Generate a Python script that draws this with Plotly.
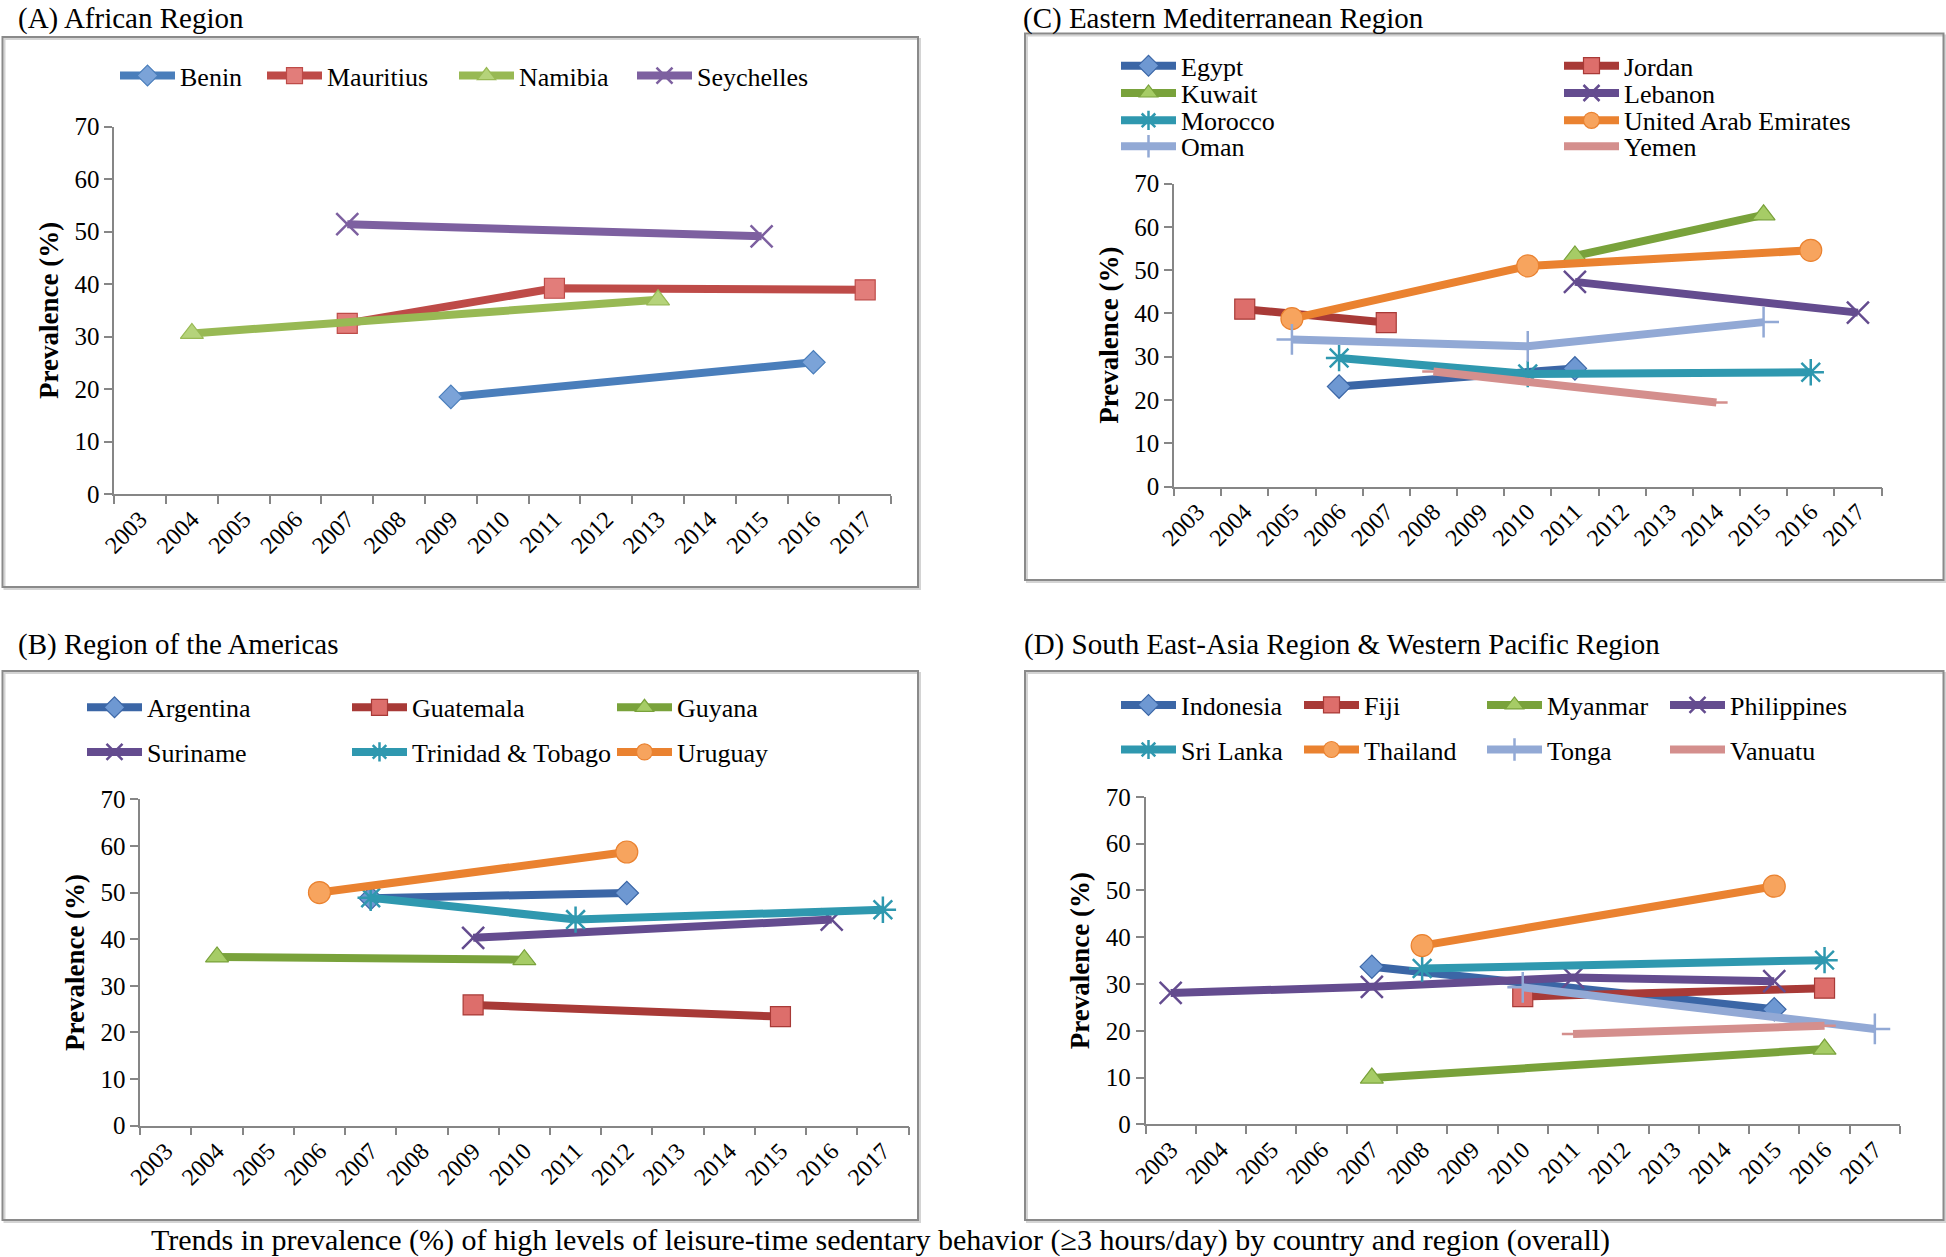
import plotly.graph_objects as go

W, H = 1946, 1257
SERIF = 'Liberation Serif'

YEARS = ['2003', '2004', '2005', '2006', '2007', '2008', '2009', '2010',
         '2011', '2012', '2013', '2014', '2015', '2016', '2017']

# (A) African Region
african_countries = ['Benin', 'Mauritius', 'Namibia', 'Seychelles']
african_years = [['2009', '2016'], ['2007', '2011', '2017'], ['2004', '2013'], ['2007', '2015']]
african_values = [[18.5, 25.1], [32.5, 39.2, 38.9], [30.6, 37.0], [51.4, 49.1]]

# (B) Region of the Americas
americas_countries = ['Argentina', 'Guatemala', 'Guyana', 'Suriname', 'Trinidad & Tobago', 'Uruguay']
americas_years = [['2007', '2012'], ['2009', '2015'], ['2004', '2010'], ['2009', '2016'],
                  ['2007', '2011', '2017'], ['2006', '2012']]
americas_values = [[48.8, 49.9], [25.9, 23.4], [36.2, 35.6], [40.3, 44.2],
                   [48.9, 44.2, 46.3], [50.0, 58.7]]

# (C) Eastern Mediterranean Region
emr_countries = ['Egypt', 'Jordan', 'Kuwait', 'Lebanon', 'Morocco',
                 'United Arab Emirates', 'Oman', 'Yemen']
emr_years = [['2006', '2011'], ['2004', '2007'], ['2011', '2015'], ['2011', '2017'],
             ['2006', '2010', '2016'], ['2005', '2010', '2016'], ['2005', '2010', '2015'],
             ['2008', '2014']]
emr_values = [[23.1, 27.3], [41.0, 37.9], [53.3, 62.8], [47.3, 40.2],
              [29.7, 26.0, 26.4], [38.8, 51.0, 54.6], [34.0, 32.4, 38.0],
              [26.6, 19.4]]

# (D) South East-Asia Region & Western Pacific Region
sea_countries = ['Indonesia', 'Fiji', 'Myanmar', 'Philippines',
                 'Sri Lanka', 'Thailand', 'Tonga', 'Vanuatu']
sea_years = [['2007', '2015'], ['2010', '2016'], ['2007', '2016'],
             ['2003', '2007', '2011', '2015'], ['2008', '2016'], ['2008', '2015'],
             ['2010', '2017'], ['2011', '2016']]
sea_values = [[33.7, 24.6], [27.3, 29.1], [9.9, 16.1], [28.1, 29.4, 31.4, 30.6],
              [33.3, 35.1], [38.2, 50.9], [29.3, 20.4], [19.3, 21.1]]

# excel-ish series styles, by series index
SYMBOLS = ['diamond', 'square', 'triangle-up', 'x-thin', 'asterisk', 'circle', 'cross-thin', 'line-ew']
SIZES = [18, 20, 20, 22, 22, 22, 22, 16]
THIN = {'x-thin', 'asterisk', 'cross-thin', 'line-ew'}
LIGHT_LINE = ['#4A7EBB', '#BE4B48', '#98B954', '#7D60A0']
LIGHT_FILL = ['#7BA3D8', '#E27D7A', '#B5D37A', '#9C84BE']
DARK_LINE = ['#3B66A6', '#A83A37', '#79A23B', '#644C8F', '#2F98AF', '#EA8230', '#92A9D5', '#D48F8D']
DARK_FILL = ['#6E98D2', '#DD6E6B', '#A6CC66', '#8C74B8', '#4BB8CF', '#F7A45E', '#B3C6E6', '#E8AAA8']


def px_x(v):
    return v / W


def px_y(v):
    return 1 - v / H


def make_trace(name, years, values, idx, axis, legend, light=False, legendwidth=None):
    line_c = (LIGHT_LINE if light else DARK_LINE)[idx]
    fill_c = (LIGHT_FILL if light else DARK_FILL)[idx]
    sym = SYMBOLS[idx]
    if sym in THIN:
        marker = dict(symbol=sym, size=SIZES[idx], color=line_c, line=dict(color=line_c, width=2.5))
    else:
        marker = dict(symbol=sym, size=SIZES[idx], color=fill_c, line=dict(color=line_c, width=1.2))
    tr = go.Scatter(
        x=years, y=values, name=name, mode='lines+markers',
        line=dict(color=line_c, width=8),
        marker=marker,
        xaxis='x' + axis, yaxis='y' + axis,
        legend=legend,
    )
    if legendwidth is not None:
        tr.legendwidth = legendwidth
    return tr


fig = go.Figure()

# panel A: one legend row
a_widths = [77, 122, 108, 120]
for i, c in enumerate(african_countries):
    fig.add_trace(make_trace(c, african_years[i], african_values[i], i, '', 'legend',
                             light=True, legendwidth=a_widths[i]))

# panel C: four legend rows of two
for i, c in enumerate(emr_countries):
    fig.add_trace(make_trace(c, emr_years[i], emr_values[i], i, '3', 'legend%d' % (2 + i // 2),
                             legendwidth=(373 if i % 2 == 0 else 240)))

# panel B: two rows of three
for i, c in enumerate(americas_countries):
    fig.add_trace(make_trace(c, americas_years[i], americas_values[i], i, '2', 'legend%d' % (6 + i // 3)))

# panel D: two rows of four
for i, c in enumerate(sea_countries):
    fig.add_trace(make_trace(c, sea_years[i], sea_values[i], i, '4', 'legend%d' % (8 + i // 4)))


def x_axis(dom, anchor):
    return dict(domain=dom, anchor=anchor, type='category', categoryorder='array',
                categoryarray=YEARS, range=[-0.5, 14.5], tickson='boundaries',
                ticks='outside', ticklen=8, tickcolor='#868686', tickwidth=1.5,
                showline=True, linecolor='#868686', linewidth=1.5,
                tickangle=-45, tickfont=dict(family=SERIF, size=24, color='black'),
                showgrid=False, zeroline=False, automargin=False)


def y_axis(dom, anchor):
    return dict(domain=dom, anchor=anchor, range=[0, 70], dtick=10,
                ticks='outside', ticklen=8, tickcolor='#868686', tickwidth=1.5,
                showline=True, linecolor='#868686', linewidth=1.5,
                tickfont=dict(family=SERIF, size=25, color='black'),
                title=dict(text='Prevalence (%)', standoff=8,
                           font=dict(family=SERIF, size=27, color='black', weight='bold')),
                showgrid=False, zeroline=False, automargin=False)


layout = dict(
    width=W, height=H,
    margin=dict(l=0, r=0, t=0, b=0, autoexpand=False),
    paper_bgcolor='white', plot_bgcolor='white',
    showlegend=True,
    xaxis=x_axis([px_x(114.2), px_x(891.1)], 'y'),
    yaxis=y_axis([px_y(494.0), px_y(126.6)], 'x'),
    xaxis2=x_axis([px_x(140.2), px_x(908.5)], 'y2'),
    yaxis2=y_axis([px_y(1125.7), px_y(799.3)], 'x2'),
    xaxis3=x_axis([px_x(1174.0), px_x(1881.5)], 'y3'),
    yaxis3=y_axis([px_y(486.5), px_y(183.7)], 'x3'),
    xaxis4=x_axis([px_x(1145.5), px_x(1900.0)], 'y4'),
    yaxis4=y_axis([px_y(1124.4), px_y(796.8)], 'x4'),
)


def legend_row(x_px, y_px, entrywidth=None):
    d = dict(orientation='h', x=px_x(x_px), xanchor='left', y=px_y(y_px), yanchor='middle',
             bgcolor='rgba(0,0,0,0)', itemwidth=55, traceorder='normal',
             font=dict(family=SERIF, size=26, color='black'))
    if entrywidth is not None:
        d['entrywidth'] = entrywidth
    return d


layout['legend'] = legend_row(115, 75.7)
for k, yy in enumerate([65.8, 93.1, 120.4, 146.4]):
    layout['legend%d' % (2 + k)] = legend_row(1116, yy, 373)
for k, yy in enumerate([707.4, 752.0]):
    layout['legend%d' % (6 + k)] = legend_row(82, yy, 195)
for k, yy in enumerate([705.0, 749.6]):
    layout['legend%d' % (8 + k)] = legend_row(1116, yy, 113)

fig.update_layout(**layout)

# panel frames with a soft shadow
boxes = [(2.5, 37, 918, 587), (1025, 33.5, 1943.5, 580), (2.5, 671, 918, 1220), (1025, 671, 1943.5, 1220)]
for x0, y0, x1, y1 in boxes:
    fig.add_shape(type='rect', xref='paper', yref='paper', layer='below',
                  x0=px_x(x0 + 2), x1=px_x(min(x1 + 2, W - 1)), y0=px_y(y0 + 2), y1=px_y(y1 + 2),
                  line=dict(color='#d4d4d4', width=2))
    fig.add_shape(type='rect', xref='paper', yref='paper', layer='below',
                  x0=px_x(x0), x1=px_x(x1), y0=px_y(y0), y1=px_y(y1),
                  line=dict(color='#8a8a8a', width=2))

# panel titles: top ones hang from the top edge
titles = [('(A) African Region', 16, 0, 'top'), ('(C) Eastern Mediterranean Region', 1021, 0, 'top'),
          ('(B) Region of the Americas', 16, 644, 'middle'),
          ('(D) South East-Asia Region & Western Pacific Region', 1022, 644, 'middle')]
for text, tx, ty, anchor in titles:
    fig.add_annotation(text=text, xref='paper', yref='paper', x=px_x(tx), y=px_y(ty),
                       xanchor='left', yanchor=anchor, showarrow=False,
                       font=dict(family=SERIF, size=29, color='black'))

fig.add_annotation(
    text='Trends in prevalence (%) of high levels of leisure-time sedentary behavior (\u22653 hours/day) by country and region (overall)',
    xref='paper', yref='paper', x=px_x(880), y=px_y(1240), xanchor='center', yanchor='middle',
    showarrow=False, font=dict(family=SERIF, size=30, color='black'))

# drop the page's default body margin so the figure sits at the window corner
fig.write_html('out.html', config={'displayModeBar': False},
               post_script="document.body.style.margin='0';")
